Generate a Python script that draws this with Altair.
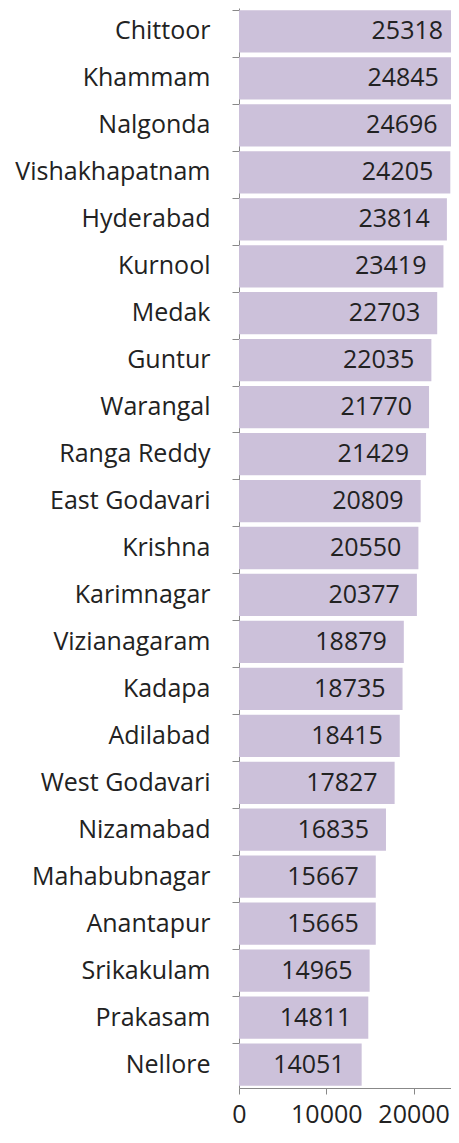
import altair as alt
import pandas as pd

districts = ["Chittoor", "Khammam", "Nalgonda", "Vishakhapatnam", "Hyderabad", "Kurnool",
             "Medak", "Guntur", "Warangal", "Ranga Reddy", "East Godavari", "Krishna",
             "Karimnagar", "Vizianagaram", "Kadapa", "Adilabad", "West Godavari", "Nizamabad",
             "Mahabubnagar", "Anantapur", "Srikakulam", "Prakasam", "Nellore"]
values = [25318, 24845, 24696, 24205, 23814, 23419, 22703, 22035, 21770, 21429, 20809, 20550,
          20377, 18879, 18735, 18415, 17827, 16835, 15667, 15665, 14965, 14811, 14051]
x_ticks = [0, 10000, 20000]

df = pd.DataFrame({"district": districts, "value": values})

FONT = "Open Sans"
FS = 25

y_enc = alt.Y("district:N", sort=districts, title=None,
              scale=alt.Scale(paddingInner=0.1, paddingOuter=0.05),
              axis=alt.Axis(bandPosition=0, tickSize=7, labelPadding=22, labelFontSize=FS,
                            labelFont=FONT, labelColor="#222", domainColor="#888",
                            tickColor="#888", labelLimit=300))
x_scale = alt.Scale(domain=[0, 24284], nice=False)

bars = alt.Chart(df).mark_bar(color="#ccc1da", clip=True).encode(
    x=alt.X("value:Q", scale=x_scale, title=None,
            axis=alt.Axis(values=x_ticks, tickSize=6, labelPadding=8, labelFontSize=FS,
                          labelFont=FONT, labelColor="#222", domainColor="#888",
                          tickColor="#888", grid=False, format="d", labelFlush=False)),
    y=y_enc,
)

labels = alt.Chart(df).mark_text(align="right", baseline="middle", dx=-17, fontSize=FS,
                                 font=FONT, color="#222").encode(
    x=alt.X("value:Q", scale=x_scale),
    y=alt.Y("district:N", sort=districts),
    text=alt.Text("value:Q", format="d"),
)

chart = (bars + labels).properties(
    width=212, height=1080,
    autosize=alt.AutoSizeParams(type="none"),
    padding={"left": 231, "top": 0, "right": 0, "bottom": 40},
).configure_view(stroke=None)

chart.save("out.html", embed_options={"renderer": "svg", "actions": False})
